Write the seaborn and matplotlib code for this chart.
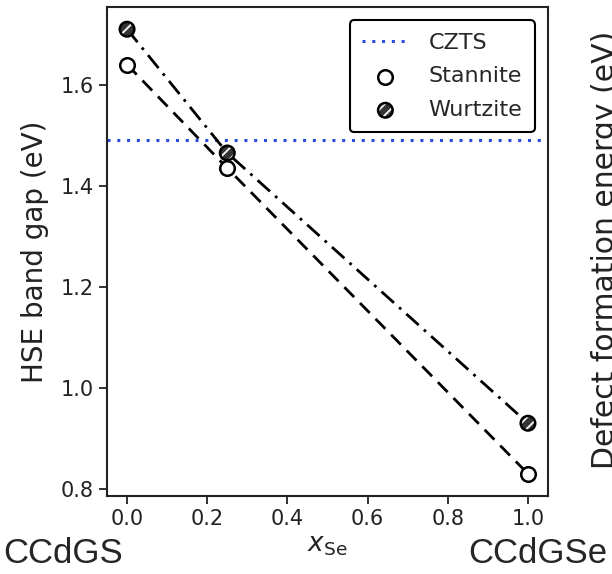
import matplotlib
matplotlib.use("Agg")
import matplotlib.pyplot as plt
from matplotlib.legend_handler import HandlerTuple
import seaborn as sns
import pandas as pd

# Se fraction across the CCdGS -> CCdGSe alloy series
x_se = [0.0, 0.25, 1.0]
stannite_gap = [1.64, 1.435, 0.83]
wurtzite_gap = [1.71, 1.465, 0.93]
czts_gap = 1.49

df = pd.DataFrame({
    "x": x_se * 2,
    "gap": stannite_gap + wurtzite_gap,
    "phase": ["Stannite"] * 3 + ["Wurtzite"] * 3,
})

sns.set_style("ticks")
plt.rcParams["font.family"] = ["DejaVu Sans"]
plt.rcParams["hatch.linewidth"] = 1.4

fig = plt.figure(figsize=(6.12, 5.74), dpi=100)
ax = fig.add_axes([107 / 612, 1 - 496 / 574, (548 - 107) / 612, (496 - 7) / 574])

czts = ax.axhline(czts_gap, color="#2b4de0", ls=(0, (1, 2.2)), lw=2.2, label="CZTS", zorder=1)

stan = df[df.phase == "Stannite"]
wurt = df[df.phase == "Wurtzite"]

sns.lineplot(data=stan, x="x", y="gap", ax=ax, color="black", lw=2.0,
             legend=False, zorder=2)
ax.lines[-1].set_linestyle((0, (5, 3)))
sns.lineplot(data=wurt, x="x", y="gap", ax=ax, color="black", lw=2.0,
             legend=False, zorder=2)
ax.lines[-1].set_linestyle((0, (6, 2.5, 1, 2.5)))

sns.scatterplot(data=stan, x="x", y="gap", ax=ax, s=110, facecolor="white",
                edgecolor="black", linewidth=1.8, zorder=3)
s_pts = ax.collections[-1]

# wurtzite: dark fill with light diagonal hatching, then a black outline
sns.scatterplot(data=wurt, x="x", y="gap", ax=ax, s=110, facecolor="#333333",
                edgecolor="#f0f0f0", linewidth=0, hatch="///", zorder=3)
w_fill = ax.collections[-1]
sns.scatterplot(data=wurt, x="x", y="gap", ax=ax, s=110, facecolor="none",
                edgecolor="black", linewidth=1.8, zorder=4)
w_edge = ax.collections[-1]

ax.set_xlim(-0.05, 1.05)
ax.set_ylim(0.786, 1.754)
ax.set_xticks([0.0, 0.2, 0.4, 0.6, 0.8, 1.0])
ax.set_yticks([0.8, 1.0, 1.2, 1.4, 1.6])
ax.tick_params(labelsize=15, length=6, width=1.3, color="#222222", labelcolor="#222222")
for sp in ax.spines.values():
    sp.set_linewidth(1.5)
    sp.set_color("#222222")

ax.set_xlabel(r"$x_{\mathrm{Se}}$", fontsize=19, color="#222222", labelpad=2)
ax.set_ylabel("HSE band gap (eV)", fontsize=20, color="#222222", labelpad=8)

leg = ax.legend(handles=[czts, s_pts, (w_fill, w_edge)],
                labels=["CZTS", "Stannite", "Wurtzite"],
                handler_map={tuple: HandlerTuple(ndivide=1)},
                loc="upper right", fontsize=16, frameon=True, fancybox=True,
                edgecolor="black", framealpha=1, handlelength=2.1,
                handletextpad=0.9, borderpad=0.55, labelspacing=0.62,
                borderaxespad=0.6)
leg.get_frame().set_linewidth(1.5)

fig.text(3 / 612, 1 - 563 / 574, "CCdGS", fontsize=25, family="Liberation Sans",
         ha="left", va="baseline")
fig.text(607 / 612, 1 - 563 / 574, "CCdGSe", fontsize=25, family="Liberation Sans",
         ha="right", va="baseline")
fig.text(591 / 612, 0.565, "Defect formation energy (eV)", fontsize=21.5, rotation=90,
         ha="left", va="center", color="#222222")

fig.savefig("out.png", dpi=100)
